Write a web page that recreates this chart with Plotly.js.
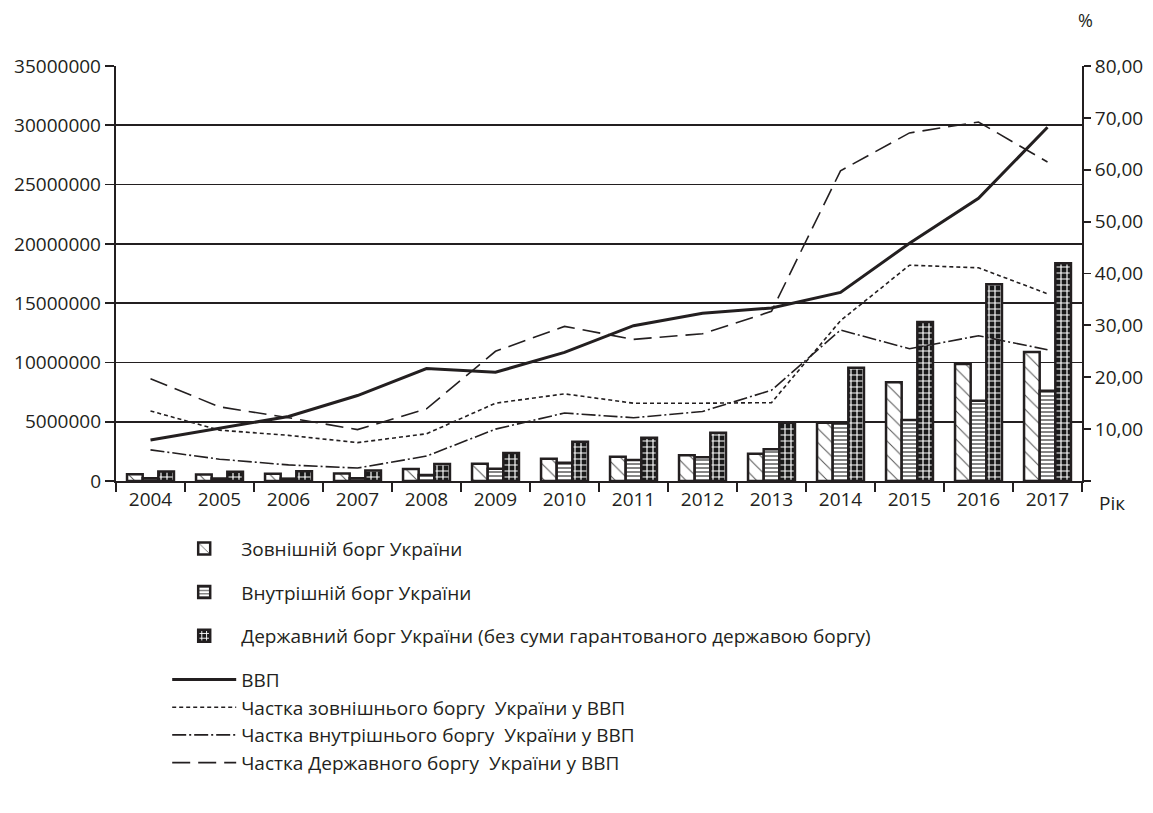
<!DOCTYPE html>
<html>
<head>
<meta charset="utf-8">
<script src="https://cdn.plot.ly/plotly-3.0.1.min.js"></script>
<style>html,body{margin:0;padding:0;background:#fff;}#chart{width:1153px;height:813px;}</style>
</head>
<body>
<div id="chart"></div>
<script>
const years = ['2004','2005','2006','2007','2008','2009','2010','2011','2012','2013','2014','2015','2016','2017'];
const externalDebt = [570000, 550000, 620000, 640000, 1010000, 1460000, 1880000, 2050000, 2170000, 2300000, 4920000, 8320000, 9870000, 10880000];
const internalDebt = [240000, 220000, 200000, 240000, 500000, 1040000, 1540000, 1770000, 2000000, 2670000, 4860000, 5140000, 6770000, 7620000];
const publicDebt = [810000, 770000, 820000, 880000, 1430000, 2360000, 3320000, 3650000, 4070000, 4920000, 9560000, 13400000, 16590000, 18360000];
const gdp = [3450000, 4415000, 5442000, 7207000, 9481000, 9170000, 10850000, 13100000, 14140000, 14600000, 15900000, 20050000, 23840000, 29830000];
const extShare = [13.5, 9.8, 8.8, 7.4, 9.1, 15.0, 16.8, 15.0, 15.0, 15.1, 30.9, 41.6, 41.1, 36.1];
const intShare = [6.0, 4.2, 3.1, 2.5, 4.8, 10.0, 13.1, 12.2, 13.4, 17.5, 29.1, 25.5, 28.0, 25.3];
const pubShare = [19.7, 14.3, 12.2, 9.9, 13.9, 25.0, 29.8, 27.3, 28.4, 32.7, 59.8, 67.1, 69.2, 61.5];
const rightTicks = [0, 10, 20, 30, 40, 50, 60, 70, 80];
const rightTickText = rightTicks.map(v => v === 0 ? '' : v.toFixed(2).replace('.', ','));

const INK = '#231f20';
const FONT = 'Open Sans, Noto Sans, sans-serif';

const traces = [
  {type:'bar', x:years, y:externalDebt, name:'Зовнішній борг України', legendgroup:'g1',
   marker:{color:'#ffffff', line:{color:INK, width:2.5},
     pattern:{shape:'\\', fgcolor:'#555', bgcolor:'#ffffff', size:10, solidity:0.1, fillmode:'replace'}}},
  {type:'bar', x:years, y:internalDebt, name:'Внутрішній борг України', legendgroup:'g2',
   marker:{color:'#ffffff', line:{color:INK, width:2.5},
     pattern:{shape:'-', fgcolor:'#777', bgcolor:'#ffffff', size:4, solidity:0.45, fillmode:'replace'}}},
  {type:'bar', x:years, y:publicDebt, name:'Державний борг України (без суми гарантованого державою боргу)', legendgroup:'g3',
   marker:{color:'#1a1a1a', line:{color:INK, width:2.5},
     pattern:{shape:'+', fgcolor:'#ffffff', bgcolor:'#1a1a1a', size:6, solidity:0.35, fillmode:'replace'}}},
  {type:'scatter', mode:'lines', x:years, y:gdp, name:'ВВП', legendgroup:'g4',
   line:{color:INK, width:3}},
  {type:'scatter', mode:'lines', x:years, y:extShare, yaxis:'y2', name:'Частка зовнішнього боргу  України у ВВП', legendgroup:'g4',
   line:{color:INK, width:1.6, dash:'4px,3px'}},
  {type:'scatter', mode:'lines', x:years, y:intShare, yaxis:'y2', name:'Частка внутрішнього боргу  України у ВВП', legendgroup:'g4',
   line:{color:INK, width:1.6, dash:'14px,3px,2px,3px'}},
  {type:'scatter', mode:'lines', x:years, y:pubShare, yaxis:'y2', name:'Частка Державного боргу  України у ВВП', legendgroup:'g4',
   line:{color:INK, width:1.6, dash:'18px,8px'}}
];

const layout = {
  width:1153, height:813,
  paper_bgcolor:'#ffffff', plot_bgcolor:'#ffffff',
  font:{family:FONT, color:INK, size:18},
  margin:{l:116, r:71, t:66, b:332, autoexpand:false},
  barmode:'group', bargap:0.32, bargroupgap:0,
  xaxis:{type:'category', showline:true, linecolor:INK, linewidth:2, ticks:'outside', tickson:'boundaries',
    ticklen:9, tickwidth:2, tickcolor:INK, tickfont:{size:19, family:FONT, color:INK}, showgrid:false, zeroline:false, fixedrange:true},
  yaxis:{range:[0, 35000000], dtick:5000000, tick0:0, tickformat:'d', showgrid:true, gridcolor:INK, gridwidth:1.8,
    ticks:'outside', ticklen:9, tickwidth:1.8, tickcolor:INK, showline:true, linecolor:INK, linewidth:2.2, zeroline:false,
    tickfont:{size:19, family:FONT, color:INK}, fixedrange:true},
  yaxis2:{overlaying:'y', side:'right', range:[0, 80], tickmode:'array', tickvals:rightTicks, ticktext:rightTickText,
    showgrid:false, showline:true, linecolor:INK, linewidth:2, ticks:'outside', ticklen:7, tickwidth:1.8, tickcolor:INK,
    zeroline:false, tickfont:{size:19, family:FONT, color:INK}, fixedrange:true},
  showlegend:true,
  legend:{x:0.053, y:-0.117, xanchor:'left', yanchor:'top', orientation:'v', traceorder:'grouped', tracegroupgap:16,
    itemwidth:64, font:{size:19, family:FONT, color:INK}, bgcolor:'rgba(0,0,0,0)'},
  annotations:[
    {text:'%', xref:'paper', yref:'paper', x:1.004, y:1.111, xanchor:'center', yanchor:'middle', showarrow:false, font:{size:18, family:FONT, color:INK}},
    {text:'Рік', xref:'paper', yref:'paper', x:1.047, y:-0.053, xanchor:'right', yanchor:'middle', showarrow:false, font:{size:19, family:FONT, color:INK}}
  ]
};

Plotly.newPlot('chart', traces, layout, {displayModeBar:false, staticPlot:true});
</script>
</body>
</html>
